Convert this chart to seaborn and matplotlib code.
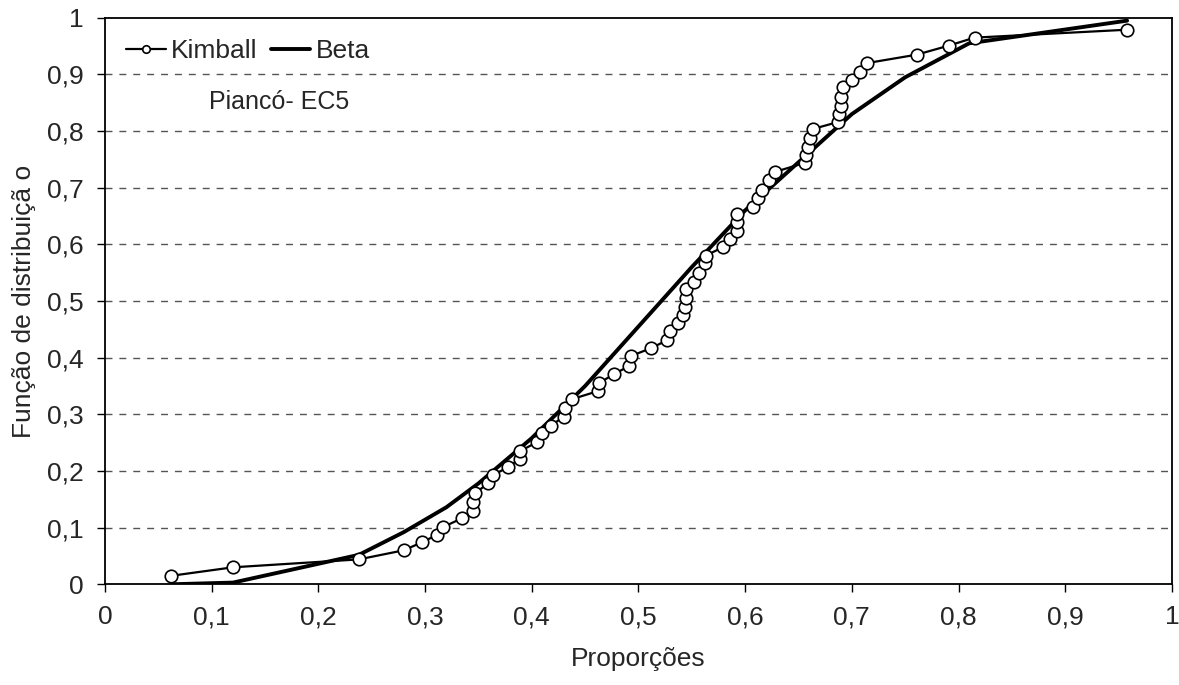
import matplotlib
matplotlib.use("Agg")
import matplotlib.pyplot as plt
import seaborn as sns
import pandas as pd

# Pontos de Kimball
kimball_x = [0.062, 0.120, 0.238, 0.280, 0.297, 0.311, 0.317, 0.335, 0.345, 0.345,
             0.347, 0.359, 0.364, 0.378, 0.389, 0.389, 0.405, 0.410, 0.418, 0.430,
             0.431, 0.438, 0.462, 0.463, 0.477, 0.491, 0.493, 0.512, 0.527, 0.530,
             0.537, 0.542, 0.544, 0.545, 0.545, 0.552, 0.557, 0.562, 0.563, 0.579,
             0.586, 0.592, 0.592, 0.592, 0.607, 0.612, 0.616, 0.622, 0.628, 0.656,
             0.657, 0.659, 0.661, 0.664, 0.687, 0.688, 0.690, 0.690, 0.692, 0.700,
             0.708, 0.714, 0.761, 0.791, 0.815, 0.958]
kimball_y = [0.015, 0.030, 0.044, 0.060, 0.074, 0.087, 0.101, 0.117, 0.129, 0.145,
             0.161, 0.178, 0.193, 0.207, 0.222, 0.235, 0.251, 0.267, 0.280, 0.296,
             0.311, 0.327, 0.341, 0.355, 0.371, 0.385, 0.403, 0.417, 0.431, 0.447,
             0.461, 0.475, 0.490, 0.505, 0.521, 0.534, 0.550, 0.567, 0.580, 0.595,
             0.610, 0.624, 0.640, 0.654, 0.666, 0.682, 0.696, 0.713, 0.728, 0.744,
             0.758, 0.772, 0.788, 0.804, 0.816, 0.830, 0.845, 0.861, 0.877, 0.890,
             0.905, 0.920, 0.935, 0.951, 0.965, 0.979]

# Curva Beta
beta_x = [0.062, 0.120, 0.238, 0.280, 0.320, 0.350, 0.400, 0.450, 0.500, 0.550,
          0.600, 0.650, 0.700, 0.750, 0.810, 0.958]
beta_y = [0.000, 0.003, 0.052, 0.092, 0.136, 0.178, 0.258, 0.350, 0.455, 0.560,
          0.660, 0.745, 0.830, 0.895, 0.955, 0.995]

ticks = [i / 10 for i in range(11)]
tick_labels = ['0', '0,1', '0,2', '0,3', '0,4', '0,5', '0,6', '0,7', '0,8', '0,9', '1']

df_k = pd.DataFrame({'x': kimball_x, 'y': kimball_y})
df_b = pd.DataFrame({'x': beta_x, 'y': beta_y})

sns.set_style("white")
plt.rcParams['font.family'] = ['Liberation Sans', 'DejaVu Sans']

fig = plt.figure(figsize=(11.79, 6.85), dpi=100)
ax = fig.add_axes([0.089, 0.147, 0.905, 0.827])

# linhas de grade tracejadas
for t in ticks[1:-1]:
    ax.axhline(t, color='#555555', linestyle=(0, (5, 5)), linewidth=1.0, zorder=0)

sns.lineplot(data=df_b, x='x', y='y', ax=ax, color='black', linewidth=2.8,
             estimator=None, sort=False, label='Beta', zorder=2)
sns.lineplot(data=df_k, x='x', y='y', ax=ax, color='black', linewidth=1.6,
             marker='o', markersize=9, markerfacecolor='white',
             markeredgecolor='black', markeredgewidth=1.2,
             estimator=None, sort=False, label='Kimball', zorder=3)

ax.set_xlim(0, 1)
ax.set_ylim(0, 1)
ax.set_xticks(ticks)
ax.set_xticklabels(tick_labels)
ax.set_yticks(ticks)
ax.set_yticklabels(tick_labels)
ax.tick_params(axis='both', direction='out', length=6, width=1, color='black',
               labelsize=19, pad=9, bottom=True, left=True)

for s in ax.spines.values():
    s.set_color('black')
    s.set_linewidth(1.3)

ax.set_xlabel('Proporções', fontsize=19, labelpad=13)
ax.set_ylabel('Função de distribuiçã o', fontsize=19, labelpad=8)

ax.text(0.098, 0.852, 'Piancó- EC5', fontsize=18, ha='left', va='center')

h, l = ax.get_legend_handles_labels()
ax.legend(h[::-1], l[::-1], loc='upper left', ncol=2, frameon=False, fontsize=19,
          handlelength=1.5, handletextpad=0.2, columnspacing=0.5,
          borderaxespad=0.4, bbox_to_anchor=(0.0, 1.0), markerscale=0.6)

fig.savefig('out.png', dpi=100)
